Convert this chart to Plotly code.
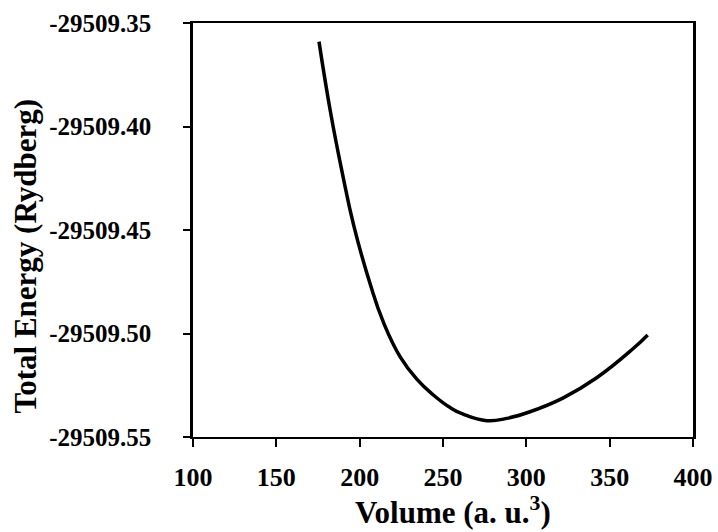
import plotly.graph_objects as go

# Data
volume = [175.6, 182.6, 189.6, 196.5, 206.5, 214.4, 224.4, 234.4, 244.2, 254.3,
          262.1, 276.3, 288.3, 302.2, 321.9, 342.0, 363.8, 372.8]
energy = [-29509.3590, -29509.3935, -29509.4225, -29509.4480, -29509.4766,
          -29509.4949, -29509.5114, -29509.5222, -29509.5297, -29509.5358,
          -29509.5390, -29509.5421, -29509.5410, -29509.5378, -29509.5312,
          -29509.5215, -29509.5075, -29509.5007]

x_ticks = [100, 150, 200, 250, 300, 350, 400]
x_tick_labels = ["100", "150", "200", "250", "300", "350", "400"]
y_ticks = [-29509.55, -29509.50, -29509.45, -29509.40, -29509.35]
y_tick_labels = ["-29509.55", "-29509.50", "-29509.45", "-29509.40", "-29509.35"]
x_title = "Volume (a. u.<sup>3</sup>)"
y_title = "Total Energy (Rydberg)"

FONT = "Liberation Serif, Times New Roman, serif"

fig = go.Figure()
fig.add_trace(go.Scatter(
    x=volume, y=energy, mode="lines",
    line=dict(color="black", width=3.5, shape="spline", smoothing=1.3),
    showlegend=False, hoverinfo="skip",
))

fig.update_layout(
    width=718, height=532,
    margin=dict(l=193, r=25, t=23, b=95, autoexpand=False),
    paper_bgcolor="white", plot_bgcolor="white",
    font=dict(family=FONT, color="black"),
)

fig.update_xaxes(
    range=[100, 400], tickmode="array", tickvals=x_ticks, ticktext=x_tick_labels,
    showgrid=False, zeroline=False,
    showline=True, linecolor="black", linewidth=2, mirror=True,
    ticks="outside", ticklen=8, tickwidth=1.5, tickcolor="black",
    tickfont=dict(family=FONT, size=26, weight="bold", color="black"),
    ticklabelstandoff=8,
)
fig.update_yaxes(
    range=[-29509.55, -29509.35], tickmode="array", tickvals=y_ticks, ticktext=y_tick_labels,
    showgrid=False, zeroline=False,
    showline=True, linecolor="black", linewidth=2.5, mirror=True,
    ticks="outside", ticklen=7, tickwidth=1.5, tickcolor="black",
    tickfont=dict(family=FONT, size=25, weight="bold", color="black"),
    ticklabelstandoff=27,
)

fig.add_annotation(
    text=x_title, xref="paper", yref="paper", x=0.5205, y=-0.178,
    xanchor="center", yanchor="middle", showarrow=False,
    font=dict(family=FONT, size=31, weight="bold", color="black"),
)
fig.add_annotation(
    text=y_title, xref="paper", yref="paper", x=-0.335, y=0.437,
    xanchor="center", yanchor="middle", showarrow=False, textangle=-90,
    font=dict(family=FONT, size=31, weight="bold", color="black"),
)

fig.write_html("out.html")
